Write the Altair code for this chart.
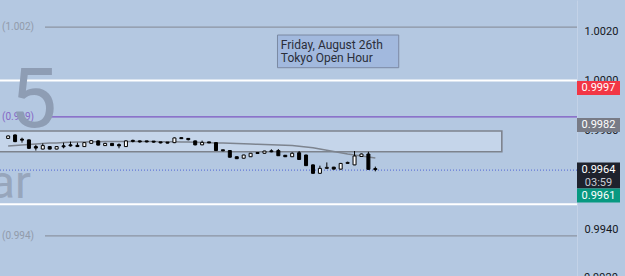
import altair as alt
import pandas as pd

# ---------------- data ----------------
opens = [0.99766, 0.99780, 0.99760, 0.99760, 0.99733, 0.99723, 0.99733, 0.99723, 0.99734, 0.99737,
         0.99738, 0.99733, 0.99746, 0.99756, 0.99737, 0.99746, 0.99741, 0.99733, 0.99755, 0.99753,
         0.99753, 0.99752, 0.99750, 0.99750, 0.99749, 0.99768, 0.99766, 0.99756, 0.99740, 0.99749,
         0.99749, 0.99717, 0.99717, 0.99692, 0.99686, 0.99692, 0.99706, 0.99706, 0.99713, 0.99717,
         0.99698, 0.99692, 0.99708, 0.99699, 0.99659, 0.99625, 0.99645, 0.99650, 0.99642, 0.99665,
         0.99659, 0.99693, 0.99703, 0.99643]
highs = [0.99778, 0.99782, 0.99769, 0.99762, 0.99740, 0.99746, 0.99734, 0.99735, 0.99749, 0.99753,
         0.99749, 0.99751, 0.99759, 0.99758, 0.99748, 0.99747, 0.99746, 0.99758, 0.99761, 0.99757,
         0.99756, 0.99755, 0.99752, 0.99751, 0.99770, 0.99769, 0.99767, 0.99757, 0.99757, 0.99751,
         0.99750, 0.99718, 0.99719, 0.99693, 0.99700, 0.99707, 0.99708, 0.99716, 0.99722, 0.99723,
         0.99699, 0.99710, 0.99715, 0.99700, 0.99661, 0.99656, 0.99669, 0.99651, 0.99667, 0.99672,
         0.99715, 0.99705, 0.99712, 0.99652]
lows = [0.99764, 0.99751, 0.99749, 0.99724, 0.99717, 0.99722, 0.99722, 0.99722, 0.99726, 0.99733,
        0.99732, 0.99732, 0.99745, 0.99738, 0.99736, 0.99736, 0.99726, 0.99732, 0.99750, 0.99749,
        0.99750, 0.99749, 0.99746, 0.99746, 0.99747, 0.99764, 0.99758, 0.99738, 0.99739, 0.99747,
        0.99716, 0.99714, 0.99689, 0.99683, 0.99685, 0.99691, 0.99704, 0.99705, 0.99710, 0.99695,
        0.99691, 0.99691, 0.99680, 0.99655, 0.99624, 0.99624, 0.99644, 0.99641, 0.99641, 0.99664,
        0.99658, 0.99692, 0.99640, 0.99633]
closes = [0.99776, 0.99753, 0.99759, 0.99726, 0.99727, 0.99737, 0.99723, 0.99733, 0.99732, 0.99736,
          0.99733, 0.99749, 0.99757, 0.99739, 0.99746, 0.99737, 0.99736, 0.99756, 0.99754, 0.99752,
          0.99752, 0.99751, 0.99748, 0.99747, 0.99768, 0.99765, 0.99761, 0.99740, 0.99750, 0.99748,
          0.99717, 0.99716, 0.99690, 0.99684, 0.99699, 0.99706, 0.99705, 0.99715, 0.99712, 0.99696,
          0.99692, 0.99706, 0.99681, 0.99656, 0.99625, 0.99645, 0.99646, 0.99642, 0.99665, 0.99666,
          0.99695, 0.99703, 0.99641, 0.99640]
ma = [0.99735, 0.99737, 0.99739, 0.99741, 0.99743, 0.99745, 0.99747, 0.99748, 0.99750, 0.99751,
      0.99752, 0.99752, 0.99753, 0.99753, 0.99754, 0.99754, 0.99754, 0.99754, 0.99754, 0.99754,
      0.99754, 0.99754, 0.99753, 0.99753, 0.99753, 0.99752, 0.99752, 0.99751, 0.99750, 0.99749,
      0.99748, 0.99747, 0.99746, 0.99745, 0.99744, 0.99743, 0.99742, 0.99741, 0.99740, 0.99739,
      0.99738, 0.99737, 0.99734, 0.99731, 0.99728, 0.99723, 0.99718, 0.99713, 0.99708, 0.99703,
      0.99699, 0.99695, 0.99691, 0.99687]

level_values = [1.00216, 0.99853, 0.99372]
level_labels = ["(1.002)", "(0.999)", "(0.994)"]
level_colors = ["#8c94a2", "#7e57c2", "#8c94a2"]
white_levels = [1.0000, 0.9950]
last_price = 0.99638

zone_x = [-2.0, 71.26]
zone_y = [0.99796, 0.99712]

note_lines = ["Friday, August 26th", "Tokyo Open Hour"]
note_x = [38.88, 56.38]
note_y = [1.001838, 1.000517]
note_text_at = [39.36, 1.001293]

axis_values = [1.002, 1.000, 0.998, 0.996, 0.994]
hidden_label = 0.992

tag_values = [0.9997, 0.9982, 0.9964, 0.9961]
tag_texts = ["0.9997", "0.9982", "0.9964", "0.9961"]
tag_fills = ["#f23645", "#787b86", "#1e222d", "#089981"]
countdown = "03:59"

watermark_1 = "EURUSD, 5"
watermark_2 = "Euro / U.S. Dollar"

# ---------------- layout ----------------
W, H = 577, 276
Y_TOP, Y_BOT = 1.003253, 0.992101
X_LEFT, X_RIGHT = -0.454, 81.39
PPU = H / (Y_TOP - Y_BOT)


def px(n):
    return n / PPU


BG = "#b4c8e1"
FONT = "Roboto"

xs = alt.Scale(domain=[X_LEFT, X_RIGHT], nice=False, zero=False)
ys = alt.Scale(domain=[Y_BOT, Y_TOP], nice=False, zero=False)
yaxis = alt.Axis(
    orient="right", values=axis_values, format=".4f", title=None, ticks=False,
    grid=False, domainColor="#c3d2e7", labelColor="#131722", labelFont=FONT,
    labelFontSize=11, labelPadding=7)


def Y(field):
    return alt.Y(field, scale=ys, axis=yaxis, title=None)


n = len(opens)
min_body = px(1)
candles = pd.DataFrame({
    "i": list(range(n)), "o": opens, "h": highs, "l": lows, "c": closes, "ma": ma,
})
candles["blo"] = candles[["o", "c"]].min(axis=1)
candles["bhi"] = candles[["o", "c"]].max(axis=1)
candles["bhi"] = candles[["bhi"]].assign(m=candles["blo"] + min_body).max(axis=1)
candles["up"] = candles["c"] >= candles["o"]

white_df = pd.DataFrame({"y": white_levels})
white = alt.Chart(white_df).mark_rule(color="#ffffff", strokeWidth=2).encode(y=Y("y:Q"))

lev_df = pd.DataFrame({"y": level_values, "t": level_labels, "col": level_colors})
lev_lines = alt.Chart(lev_df).mark_rule(strokeWidth=1.2).encode(
    y=Y("y:Q"),
    x=alt.value(45), x2=alt.value(W),
    color=alt.Color("col:N", scale=None),
)
lev_text = alt.Chart(lev_df).mark_text(align="left", baseline="middle", font=FONT,
                                       fontSize=10, opacity=0.85).encode(
    y=Y("y:Q"),
    x=alt.value(2),
    text="t:N",
    color=alt.Color("col:N", scale=None),
)

zone_df = pd.DataFrame({"x0": [zone_x[0]], "x1": [zone_x[1]], "y0": [zone_y[0]], "y1": [zone_y[1]]})
zone = alt.Chart(zone_df).mark_rect(fill="#c5d5ea", stroke="#7d838d", strokeWidth=1.6, clip=True).encode(
    x=alt.X("x0:Q", scale=xs, axis=None), x2="x1:Q",
    y=Y("y0:Q"), y2="y1:Q",
)

price_line = alt.Chart(pd.DataFrame({"y": [last_price]})).mark_rule(
    color="#4f63d6", strokeWidth=1, strokeDash=[1, 2]).encode(y=Y("y:Q"))

wm1 = alt.Chart(pd.DataFrame({"t": [watermark_1]})).mark_text(
    align="right", baseline="alphabetic", font="Liberation Sans Narrow, Roboto", fontSize=84,
    color="#8e9db4").encode(x=alt.value(57), y=alt.value(127), text="t:N")
wm2 = alt.Chart(pd.DataFrame({"t": [watermark_2]})).mark_text(
    align="right", baseline="alphabetic", font=FONT, fontSize=47, color="#97a6bc").encode(
    x=alt.value(31), y=alt.value(198), text="t:N")

ma_line = alt.Chart(candles).mark_line(color="#7d848f", strokeWidth=1.5).encode(
    x=alt.X("i:Q", scale=xs, axis=None),
    y=Y("ma:Q"),
)

wicks = alt.Chart(candles).mark_rule(color="#000000", strokeWidth=1).encode(
    x=alt.X("i:Q", scale=xs, axis=None),
    y=Y("l:Q"), y2="h:Q",
)
bodies = alt.Chart(candles).mark_bar(size=3, stroke="#000000", strokeWidth=1).encode(
    x=alt.X("i:Q", scale=xs, axis=None),
    y=Y("blo:Q"), y2="bhi:Q",
    fill=alt.condition("datum.up", alt.value("#ffffff"), alt.value("#000000")),
)

note_df = pd.DataFrame({"x0": [note_x[0]], "x1": [note_x[1]], "y0": [note_y[0]], "y1": [note_y[1]]})
note_box = alt.Chart(note_df).mark_rect(fill="#a2b9de", stroke="#7b89a2", strokeWidth=1).encode(
    x=alt.X("x0:Q", scale=xs, axis=None), x2="x1:Q",
    y=Y("y0:Q"), y2="y1:Q",
)
note_text = alt.Chart(pd.DataFrame({"x": [note_text_at[0]], "y": [note_text_at[1]],
                                    "t": [note_lines]})).mark_text(
    align="left", baseline="alphabetic", font=FONT, fontSize=12, lineHeight=13.5,
    color="#2a2e39").encode(
    x=alt.X("x:Q", scale=xs, axis=None),
    y=Y("y:Q"),
    text="t",
)

low_lab = alt.Chart(pd.DataFrame({"y": [hidden_label], "t": [f"{hidden_label:.4f}"]})).mark_text(
    align="left", baseline="middle", font=FONT, fontSize=11, color="#131722").encode(
    x=alt.value(W + 7), y=Y("y:Q"), text="t:N")

tops = [tag_values[0] + px(7), tag_values[1] + px(7), tag_values[2] + px(7)]
bots = [tag_values[0] - px(7), tag_values[1] - px(7), tag_values[2] - px(19)]
tops.append(bots[2])
bots.append(bots[2] - px(14))
tag_df = pd.DataFrame({"top": tops, "bot": bots, "fill": tag_fills})
tags = alt.Chart(tag_df).mark_rect().encode(
    x=alt.value(W), x2=alt.value(620),
    y=Y("top:Q"), y2="bot:Q",
    fill=alt.Color("fill:N", scale=None),
)
ttext_df = pd.DataFrame({
    "y": [tag_values[0], tag_values[1], tag_values[2], tag_values[2] - px(13), (tops[3] + bots[3]) / 2],
    "t": [tag_texts[0], tag_texts[1], tag_texts[2], countdown, tag_texts[3]],
    "c": ["#ffffff", "#ffffff", "#ffffff", "#c9ccd4", "#ffffff"],
})
tag_text = alt.Chart(ttext_df).mark_text(align="center", baseline="middle", font=FONT,
                                         fontSize=11).encode(
    x=alt.value(598.5),
    y=Y("y:Q"),
    text="t:N",
    color=alt.Color("c:N", scale=None),
)

chart = alt.layer(
    white, lev_lines, lev_text, wm1, wm2, zone, price_line, ma_line, wicks, bodies,
    note_box, note_text, low_lab, tags, tag_text,
).properties(
    width=W, height=H, background=BG,
    padding={"left": 0, "top": 0, "right": 625 - W, "bottom": 0},
    autosize=alt.AutoSizeParams(type="none"),
).configure_view(stroke=None)

chart.save("out.html", embed_options={"renderer": "svg", "actions": False})
